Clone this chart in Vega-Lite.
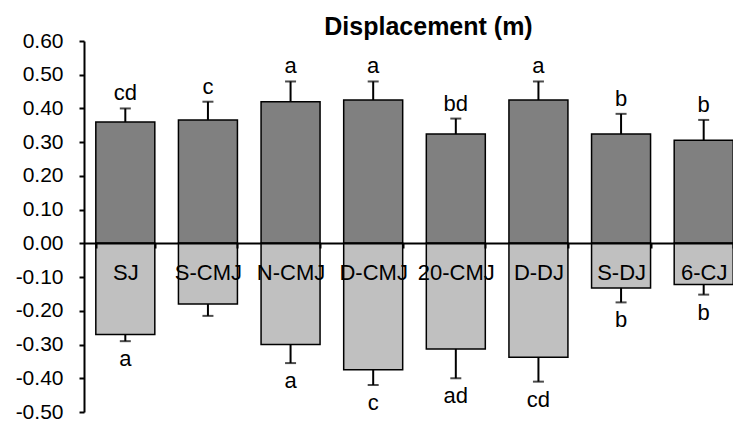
{
  "$schema": "https://vega.github.io/schema/vega-lite/v6.json",
  "width": 649,
  "height": 371,
  "autosize": "none",
  "padding": {"left": 84, "top": 41, "right": 0, "bottom": 11},
  "background": "white",
  "title": {"text": "Displacement (m)", "font": "Liberation Sans", "fontSize": 25, "fontWeight": "bold", "color": "black", "anchor": "middle", "dx": 20, "dy": 30, "baseline": "alphabetic", "offset": 0},
  "data": {"values": [
    {"jump": "SJ", "dir": "up", "value": 0.36, "hi": 0.40, "sig": "cd"},
    {"jump": "SJ", "dir": "down", "value": -0.27, "hi": -0.29, "sig": "a"},
    {"jump": "S-CMJ", "dir": "up", "value": 0.366, "hi": 0.42, "sig": "c"},
    {"jump": "S-CMJ", "dir": "down", "value": -0.18, "hi": -0.215, "sig": ""},
    {"jump": "N-CMJ", "dir": "up", "value": 0.42, "hi": 0.48, "sig": "a"},
    {"jump": "N-CMJ", "dir": "down", "value": -0.30, "hi": -0.355, "sig": "a"},
    {"jump": "D-CMJ", "dir": "up", "value": 0.425, "hi": 0.48, "sig": "a"},
    {"jump": "D-CMJ", "dir": "down", "value": -0.375, "hi": -0.42, "sig": "c"},
    {"jump": "20-CMJ", "dir": "up", "value": 0.324, "hi": 0.37, "sig": "bd"},
    {"jump": "20-CMJ", "dir": "down", "value": -0.313, "hi": -0.40, "sig": "ad"},
    {"jump": "D-DJ", "dir": "up", "value": 0.425, "hi": 0.48, "sig": "a"},
    {"jump": "D-DJ", "dir": "down", "value": -0.338, "hi": -0.41, "sig": "cd"},
    {"jump": "S-DJ", "dir": "up", "value": 0.324, "hi": 0.384, "sig": "b"},
    {"jump": "S-DJ", "dir": "down", "value": -0.132, "hi": -0.175, "sig": "b"},
    {"jump": "6-CJ", "dir": "up", "value": 0.306, "hi": 0.366, "sig": "b"},
    {"jump": "6-CJ", "dir": "down", "value": -0.122, "hi": -0.152, "sig": "b"}
  ]},
  "encoding": {
    "x": {
      "field": "jump", "type": "nominal", "sort": null, "title": null,
      "scale": {"range": [0, 661], "paddingInner": 0.286, "paddingOuter": 0.143},
      "axis": {"orient": "bottom", "offset": -169, "labelAngle": 0, "labelPadding": 14, "labelFontSize": 22, "tickBand": "extent", "zindex": 1, "labelOverlap": false}
    }
  },
  "layer": [
    {
      "mark": {"type": "bar", "stroke": "black", "strokeWidth": 1.5},
      "encoding": {
        "y": {"field": "value", "type": "quantitative", "title": null,
              "scale": {"domain": [-0.5, 0.6], "nice": false, "zero": false},
              "axis": {"tickCount": 11, "labelPadding": 16, "labelFontSize": 21, "labelExpr": "replace(format(datum.value, '.2f'), '\u2212', '-')"}},
        "color": {"field": "dir", "type": "nominal", "legend": null,
                  "scale": {"domain": ["up", "down"], "range": ["#808080", "#c0c0c0"]}}
      }
    },
    {
      "mark": {"type": "rule", "color": "black", "strokeWidth": 2},
      "encoding": {
        "y": {"field": "value", "type": "quantitative", "title": null},
        "y2": {"field": "hi"}
      }
    },
    {
      "mark": {"type": "tick", "color": "black", "thickness": 2, "size": 11},
      "encoding": {
        "y": {"field": "hi", "type": "quantitative", "title": null}
      }
    },
    {
      "transform": [{"filter": "datum.dir == 'up'"}],
      "mark": {"type": "text", "font": "Liberation Sans", "fontSize": 22, "color": "black", "baseline": "alphabetic", "dy": -8},
      "encoding": {
        "y": {"field": "hi", "type": "quantitative", "title": null},
        "text": {"field": "sig"}
      }
    },
    {
      "transform": [{"filter": "datum.dir == 'down'"}],
      "mark": {"type": "text", "font": "Liberation Sans", "fontSize": 22, "color": "black", "baseline": "alphabetic", "dy": 25},
      "encoding": {
        "y": {"field": "hi", "type": "quantitative", "title": null},
        "text": {"field": "sig"}
      }
    }
  ],
  "config": {
    "view": {"stroke": null},
    "axis": {"domainColor": "black", "domainWidth": 2, "tickColor": "black", "tickWidth": 2, "tickSize": 5, "labelColor": "black", "labelFont": "Liberation Sans", "labelFontSize": 22, "grid": false}
  }
}
